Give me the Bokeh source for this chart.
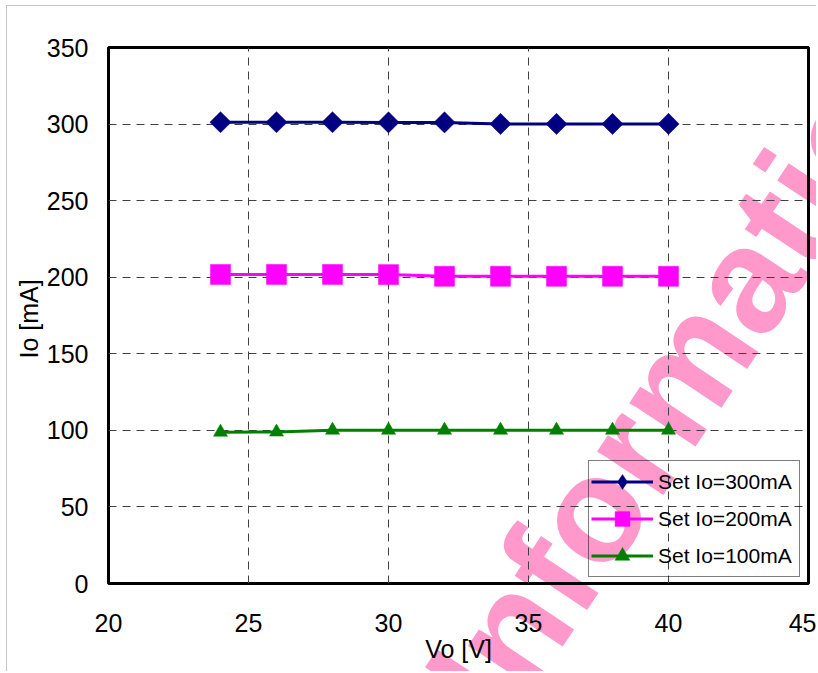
import math
from bokeh.plotting import figure
from bokeh.layouts import column
from bokeh.models import Range1d, FixedTicker, Legend, LegendItem, Label, BoxAnnotation
from bokeh.embed import file_html
from bokeh.resources import INLINE

# ---- data ----
vo = [24, 26, 28, 30, 32, 34, 36, 38, 40]
io_300 = [301.2, 301.2, 301.2, 301.1, 301.1, 300.1, 300.1, 300.1, 300.1]
io_200 = [201.8, 201.8, 201.8, 201.7, 200.6, 200.6, 200.6, 200.6, 200.6]
io_100 = [98.8, 98.9, 100.1, 100.1, 100.1, 100.1, 100.1, 100.1, 100.1]
series_labels = ["Set Io=300mA", "Set Io=200mA", "Set Io=100mA"]
x_ticks = [20, 25, 30, 35, 40, 45]
y_ticks = [0, 50, 100, 150, 200, 250, 300, 350]
x_label = "Vo [V]"
y_label = "Io  [mA]"
watermark = "Information"

FONT = "Liberation Sans"
W, H = 816, 671
BL, BR, BT, BB = 108, 8, 47, 88          # borders around the plot frame
X0, X1, Y0, Y1 = 20, 45, 0, 350

# ---------------- background layer: watermark + outer chart border ----------------
sx = (X1 - X0) / (W - BL - BR)           # data units per pixel
sy = (Y1 - Y0) / (H - BT - BB)
bg = figure(width=W, height=H, output_backend="svg", toolbar_location=None,
            x_axis_type=None, y_axis_type=None,
            x_range=Range1d(X0 - BL * sx, X1 + BR * sx),
            y_range=Range1d(Y0 - BB * sy, Y1 + BT * sy),
            min_border=0, min_border_left=0, min_border_right=0,
            min_border_top=0, min_border_bottom=0)
bg.frame_align = False
bg.outline_line_color = None
bg.grid.visible = False
bg.background_fill_color = "white"
bg.border_fill_color = "white"
bg.add_layout(Label(x=32.63, y=-78.7, text=watermark, angle=56.4, angle_units="deg",
                    text_font=FONT, text_font_style="bold", text_font_size="150px",
                    text_color="#FF99CC", text_align="left", text_baseline="alphabetic"))
bg.add_layout(BoxAnnotation(left=X0 - 102 * sx, right=X1 + 100 * sx,
                            bottom=Y0 - 300 * sy, top=Y1 + 42 * sy,
                            fill_alpha=0, line_color="#404040", line_width=1))

# ---------------- chart layer (transparent, drawn on top) ----------------
p = figure(width=W, height=H, output_backend="svg", toolbar_location=None,
           x_range=Range1d(X0, X1), y_range=Range1d(Y0, Y1),
           min_border_left=BL, min_border_right=BR, min_border_top=BT,
           min_border_bottom=BB)
p.frame_align = False
p.margin = (-H, 0, 0, 0)
p.background_fill_alpha = 0
p.border_fill_alpha = 0
p.outline_line_color = "black"
p.outline_line_width = 3
p.outline_line_alpha = 1.0

p.xaxis.ticker = FixedTicker(ticks=x_ticks)
p.yaxis.ticker = FixedTicker(ticks=y_ticks)
for ax in (p.xaxis, p.yaxis):
    ax.axis_line_color = None
    ax.major_tick_line_color = None
    ax.minor_tick_line_color = None
    ax.major_tick_out = 0
    ax.major_tick_in = 0
    ax.major_label_text_font = FONT
    ax.major_label_text_font_size = "25px"
    ax.major_label_text_color = "black"
    ax.axis_label_text_font = FONT
    ax.axis_label_text_font_size = "25px"
    ax.axis_label_text_font_style = "normal"
    ax.axis_label_text_color = "black"
p.xaxis.major_label_standoff = 30
p.yaxis.major_label_standoff = 20
p.xaxis.axis_label = x_label
p.yaxis.axis_label = y_label
p.xaxis.axis_label_standoff = 0
p.yaxis.axis_label_standoff = 1

p.xgrid.ticker = FixedTicker(ticks=x_ticks)
p.ygrid.ticker = FixedTicker(ticks=y_ticks)
for g in (p.xgrid, p.ygrid):
    g.grid_line_color = "#404040"
    g.grid_line_width = 1
    g.grid_line_dash = "8 6"

l1 = p.line(vo, io_300, line_color="#000080", line_width=3)
d1 = p.scatter(vo, io_300, marker="diamond", size=10,
               fill_color="#000080", line_color="#000080", line_width=0.5)
s1 = p.scatter(vo, io_300, marker="square", angle=math.pi / 4, size=15,
               fill_color="#000080", line_color="#000080", line_width=0.5)
l2 = p.line(vo, io_200, line_color="#FF00FF", line_width=3)
s2 = p.scatter(vo, io_200, marker="square", size=20,
               fill_color="#FF00FF", line_color="#FF00FF", line_width=0.5)
l3 = p.line(vo, io_100, line_color="#008000", line_width=3)
s3 = p.scatter(vo, io_100, marker="triangle", size=14,
               fill_color="#008000", line_color="#008000", line_width=0.5)

legend = Legend(items=[LegendItem(label=series_labels[0], renderers=[l1, d1]),
                       LegendItem(label=series_labels[1], renderers=[l2, s2]),
                       LegendItem(label=series_labels[2], renderers=[l3, s3])],
                location=(480, 6), padding=2, spacing=0,
                glyph_width=62, glyph_height=37, label_height=37,
                label_width=139, label_standoff=5, margin=0,
                label_text_font=FONT, label_text_font_size="21px",
                label_text_color="black",
                border_line_color="black", border_line_width=1,
                background_fill_alpha=0)
p.add_layout(legend)

layout = column(bg, p, spacing=0)
open("out.html", "w").write(file_html(layout, INLINE))
